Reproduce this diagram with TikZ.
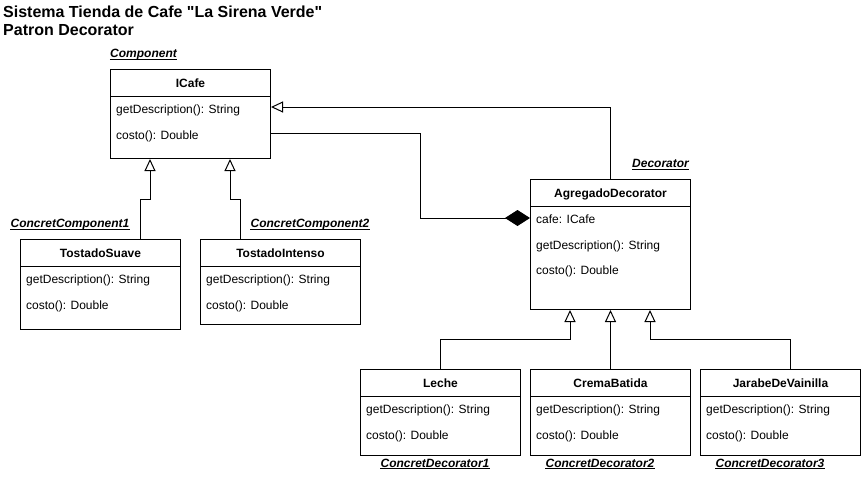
\documentclass[tikz,border=0pt]{standalone}
\usepackage{fontspec}
\setmainfont{Liberation Sans}
\usetikzlibrary{arrows.meta,calc}
\font\titlefont="Liberation Sans/B" at 16pt
\tikzset{
  cls/.style={draw, line width=1pt, anchor=north west, inner sep=0pt, minimum width=160pt},
  ttl/.style={font=\bfseries\fontsize{12}{14}\selectfont, inner sep=0pt, anchor=base},
  attr/.style={font=\fontsize{12}{14}\selectfont, anchor=base west, inner sep=0pt},
  role/.style={font=\bfseries\itshape\fontsize{12}{14}\selectfont, inner sep=0pt, anchor=base},
  heading/.style={font=\titlefont, anchor=base west, inner sep=0pt},
  inh/.style={-{Triangle[open,length=12pt,width=11pt]}, line width=1pt},
  comp/.style={-{Diamond[length=25pt,width=16pt]}, line width=1pt},
}
\newcommand{\umlcls}[5]{%
  \node[cls, minimum height=#4pt] (#1) at (#2,#3) {};
  \draw[line width=1pt] ($(#1.north west)+(0,27)$) -- ($(#1.north east)+(0,27)$);
  \node[ttl] (#1-t) at ($(#1.north)+(0,18)$) {#5};
}
\newcommand{\umlattr}[4]{%
  \node[attr] (#1-#2) at ($(#1.north west)+(6,#3)$) {#4};
}
\newcommand{\rolelbl}[4]{%
  \node[role] (#1) at (#2,#3) {#4};
  \draw[line width=0.9pt] ($(#1.base west)+(0,1.6)$) -- ($(#1.base east)+(0,1.6)$);
}
\begin{document}
\begin{tikzpicture}[x=1pt,y=-1pt]
\useasboundingbox[fill=white] (0,0) rectangle (861,479);

\node[heading] (title1) at (3,17) {Sistema Tienda de Cafe "La Sirena Verde"};
\node[heading] (title2) at (3,35.5) {Patron Decorator};

% classes
\umlcls{icafe}{110}{69}{89}{ICafe}
\umlattr{icafe}{a1}{44.5}{getDescription(): String}
\umlattr{icafe}{a2}{70.5}{costo(): Double}

\umlcls{ts}{20}{239}{90}{TostadoSuave}
\umlattr{ts}{a1}{44}{getDescription(): String}
\umlattr{ts}{a2}{70}{costo(): Double}

\umlcls{ti}{200}{239}{85}{TostadoIntenso}
\umlattr{ti}{a1}{44}{getDescription(): String}
\umlattr{ti}{a2}{70}{costo(): Double}

\umlcls{ad}{530}{179}{130}{AgregadoDecorator}
\umlattr{ad}{a1}{44}{cafe: ICafe}
\umlattr{ad}{a2}{70}{getDescription(): String}
\umlattr{ad}{a3}{95}{costo(): Double}

\umlcls{le}{360}{369}{86}{Leche}
\umlattr{le}{a1}{44}{getDescription(): String}
\umlattr{le}{a2}{70}{costo(): Double}

\umlcls{cb}{530}{369}{86}{CremaBatida}
\umlattr{cb}{a1}{44}{getDescription(): String}
\umlattr{cb}{a2}{70}{costo(): Double}

\umlcls{jv}{700}{369}{86}{JarabeDeVainilla}
\umlattr{jv}{a1}{44}{getDescription(): String}
\umlattr{jv}{a2}{70}{costo(): Double}

% role labels
\rolelbl{r-comp}{143.5}{57.5}{Component}
\rolelbl{r-dec}{660.5}{167.5}{Decorator}
\rolelbl{r-cc1}{70}{227.5}{ConcretComponent1}
\rolelbl{r-cc2}{310}{227.5}{ConcretComponent2}
\rolelbl{r-cd1}{435}{467}{ConcretDecorator1}
\rolelbl{r-cd2}{600}{467}{ConcretDecorator2}
\rolelbl{r-cd3}{770}{467}{ConcretDecorator3}

% connectors
\draw[inh] ($(ts.north west)+(120,0)$) -- ++(0,-40) -| ($(icafe.south west)+(40,0)$);
\draw[inh] ($(ti.north west)+(40,0)$) -- ++(0,-40) -| ($(icafe.south west)+(120,0)$);
\draw[inh] ($(ad.north west)+(80,0)$) |- ($(icafe.north east)+(0,38)$);
\draw[comp] ($(icafe.north east)+(0,64)$) -| ($(ad.north west)+(-110,39)$) -- ($(ad.north west)+(0,39)$);
\draw[inh] ($(le.north west)+(80,0)$) -- ++(0,-30) -| ($(ad.south west)+(40,0)$);
\draw[inh] (cb.north) -- (ad.south);
\draw[inh] ($(jv.north west)+(90,0)$) -- ++(0,-30) -| ($(ad.south west)+(120,0)$);
\end{tikzpicture}
\end{document}
